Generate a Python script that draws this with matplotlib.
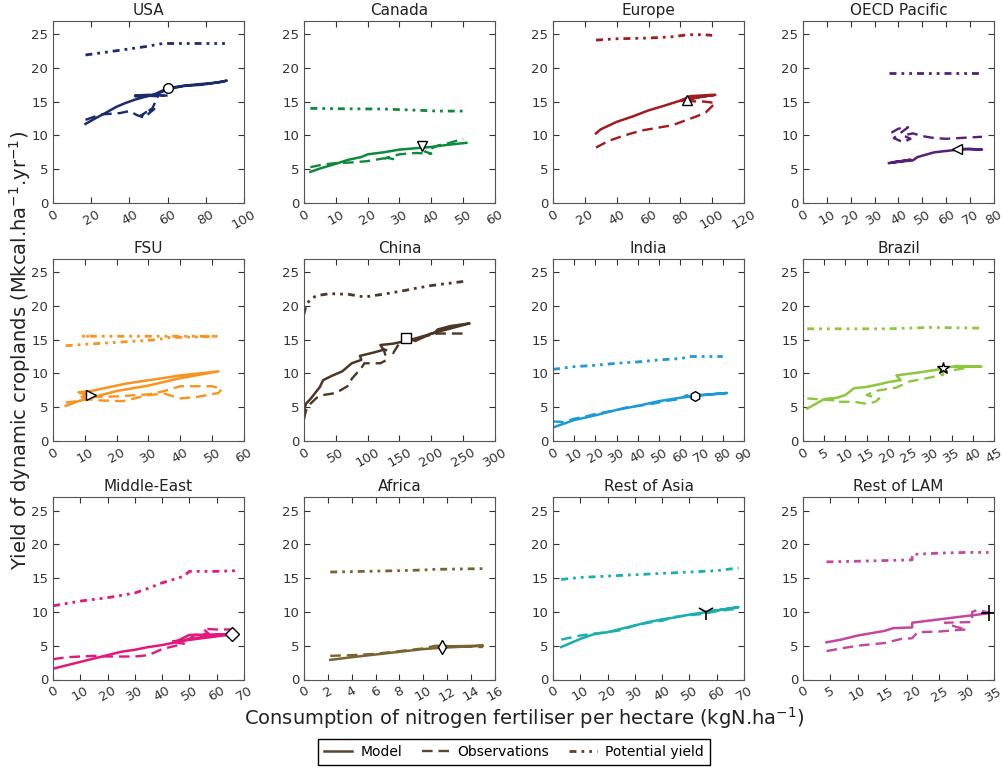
import numpy as np
import matplotlib
matplotlib.use("Agg")
import matplotlib.pyplot as plt
from matplotlib.lines import Line2D

# =========================
# regions, colours, markers
# =========================
regions = ["USA", "Canada", "Europe", "OECD Pacific",
           "FSU", "China", "India", "Brazil",
           "Middle-East", "Africa", "Rest of Asia", "Rest of LAM"]
colors = ["#1c2a6e", "#0d8a3c", "#a11b1f", "#56207a",
          "#f7931e", "#4e3626", "#1c9ad6", "#8dc63f",
          "#e5177b", "#7b6330", "#19afae", "#c2489e"]
markers = ["o", "v", "^", "<", ">", "s", "h", "*", "D", "d", "1", "+"]
xmax = [100, 60, 120, 80, 60, 300, 90, 45, 70, 16, 70, 35]
xstep = [20, 10, 20, 10, 10, 50, 10, 5, 10, 2, 10, 5]

# marker position (x, y) on the model curve
mark_xy = [(60, 17.0), (37, 8.4), (84, 15.3), (64.5, 8.0),
           (12, 6.8), (160, 15.2), (67, 6.7), (33, 10.8),
           (65.5, 6.7), (11.6, 4.8), (56, 10.0), (34, 9.8)]

# =========================
# data: model / observations / potential yield
# =========================
model_x = [
    [17, 22, 28, 33, 38, 43, 48, 55, 60, 68, 78, 88, 91, 85, 70, 60, 52, 45, 43, 50, 58],
    [2, 5, 10, 14, 18, 20, 25, 30, 35, 40, 45, 51],
    [27, 30, 40, 50, 60, 70, 78, 85, 95, 102, 92, 80, 86, 100, 84],
    [36, 40, 45, 37, 46, 48, 50, 55, 60, 65, 70, 75, 68, 64.5],
    [4, 8, 12, 20, 30, 40, 52, 40, 33, 23, 12, 8, 12, 9, 12],
    [0, 3, 10, 15, 25, 30, 45, 60, 75, 90, 88, 110, 125, 120, 140, 160, 180, 205, 210, 230, 260, 200, 175, 160],
    [0, 10, 20, 30, 40, 50, 60, 70, 82, 67],
    [1, 3, 5, 8, 10, 12, 15, 18, 20, 23, 22, 28, 33, 35, 42, 36],
    [0, 5, 10, 15, 20, 25, 30, 35, 40, 45, 50, 55, 60, 66, 45, 50, 66],
    [2.2, 4, 6, 8, 10, 11.5, 15, 12, 11.6],
    [3, 10, 15, 20, 25, 30, 35, 40, 45, 50, 55, 60, 68, 56],
    [4.3, 7, 10, 15, 16.5, 20, 20, 25, 30, 34],
]
model_y = [
    [11.7, 12.5, 13.4, 14.2, 14.8, 15.3, 15.7, 16.2, 16.8, 17.3, 17.5, 17.9, 18.1, 17.8, 17.4, 17.0, 15.9, 15.8, 15.9, 16.0, 15.9],
    [4.6, 5.1, 5.8, 6.4, 6.8, 7.2, 7.5, 7.9, 8.1, 8.3, 8.6, 8.9],
    [10.3, 10.9, 12.0, 12.8, 13.7, 14.4, 15.0, 15.5, 15.8, 16.0, 15.7, 15.1, 15.8, 16.0, 15.3],
    [5.9, 6.1, 6.4, 6.0, 6.3, 6.8, 7.0, 7.5, 7.7, 7.9, 8.0, 7.9, 8.0, 8.0],
    [5.2, 5.9, 6.4, 7.4, 8.2, 9.3, 10.3, 9.7, 9.2, 8.5, 7.4, 7.2, 6.6, 6.5, 6.8],
    [4.5, 5.5, 6.2, 6.8, 8.0, 9.0, 9.7, 10.3, 11.5, 12.0, 12.6, 13.1, 13.5, 14.2, 14.4, 14.8, 15.3, 16.0, 16.5, 17.0, 17.4, 15.9, 14.8, 15.2],
    [2.0, 3.1, 3.8, 4.6, 5.2, 5.9, 6.4, 6.8, 7.1, 6.7],
    [4.8, 5.5, 6.2, 6.4, 6.8, 7.8, 8.0, 8.4, 8.7, 9.0, 9.7, 10.2, 10.7, 11.0, 11.0, 11.1],
    [1.6, 2.1, 2.6, 3.1, 3.6, 4.1, 4.4, 4.8, 5.1, 5.5, 6.0, 6.3, 6.6, 6.7, 5.6, 6.6, 6.7],
    [2.9, 3.3, 3.7, 4.1, 4.5, 4.7, 5.0, 4.9, 4.8],
    [4.8, 6.0, 6.7, 7.0, 7.5, 8.0, 8.5, 8.9, 9.2, 9.6, 9.9, 10.2, 10.7, 10.0],
    [5.5, 5.9, 6.5, 7.2, 7.6, 7.7, 8.4, 8.9, 9.4, 9.8],
]

obs_x = [
    [17, 25, 35, 40, 44, 48, 50, 53, 49, 46, 52, 55, 47, 43, 60],
    [2, 6, 10, 15, 20, 25, 28, 26, 30, 35, 40, 38, 42, 45, 50],
    [27, 35, 45, 55, 65, 75, 83, 90, 96, 102, 95, 80],
    [37, 40, 44, 41, 38, 42, 45, 42, 46, 50, 55, 60, 65, 70, 75],
    [4, 8, 10, 15, 22, 30, 35, 40, 45, 52, 53, 50, 40, 35, 30, 20, 12, 9],
    [0, 3, 10, 20, 30, 50, 70, 75, 90, 95, 120, 130, 125, 140, 150, 180, 210, 255],
    [0, 5, 10, 15, 20, 30, 35, 45, 50, 55, 60, 63, 65],
    [1, 5, 8, 8, 12, 15, 17, 18, 15, 17, 22, 25, 30, 33, 33, 40, 42],
    [0, 5, 10, 15, 20, 25, 30, 35, 40, 45, 48, 43, 50, 52, 57, 55, 60, 66],
    [2.2, 4, 6, 8, 10, 11, 15],
    [3, 10, 15, 20, 25, 30, 35, 40, 45, 50, 55, 60, 68],
    [4.3, 7, 10, 15, 18, 20, 21, 25, 28, 30, 28, 26, 31, 31, 32, 34],
]
obs_y = [
    [12.3, 13.1, 13.3, 13.6, 13.0, 12.6, 13.2, 13.9, 13.5, 12.9, 14.0, 15.8, 15.9, 15.8, 15.9],
    [5.3, 5.7, 5.9, 6.0, 6.2, 6.6, 6.5, 6.7, 7.2, 7.4, 7.3, 7.6, 8.5, 8.8, 9.5],
    [8.2, 9.2, 10.0, 10.7, 11.1, 11.5, 12.2, 12.8, 13.4, 14.8, 15.0, 15.1],
    [10.4, 11.0, 11.2, 10.4, 9.6, 9.0, 9.5, 10.0, 10.3, 9.9, 9.6, 9.5, 9.6, 9.7, 9.8],
    [5.7, 5.9, 6.2, 6.0, 5.9, 6.8, 7.0, 6.3, 6.5, 7.1, 7.7, 8.1, 8.1, 7.4, 6.9, 6.6, 6.5, 7.3],
    [3.2, 4.5, 5.5, 6.4, 6.8, 7.1, 8.2, 9.2, 10.8, 11.5, 11.5, 12.0, 13.6, 13.0, 14.5, 15.3, 15.9, 15.9],
    [2.9, 2.8, 3.3, 3.6, 4.0, 4.6, 5.0, 5.4, 5.7, 6.0, 6.2, 6.8, 6.4],
    [6.3, 6.1, 6.0, 5.8, 5.8, 5.5, 5.8, 6.3, 6.8, 7.4, 7.9, 8.8, 9.4, 9.8, 10.2, 11.0, 11.1],
    [3.0, 3.3, 3.4, 3.5, 3.4, 3.4, 3.4, 3.6, 4.5, 5.0, 5.3, 5.6, 6.0, 6.6, 6.8, 7.5, 7.4, 7.4],
    [3.5, 3.6, 3.8, 4.2, 4.6, 5.0, 4.8],
    [5.9, 6.5, 6.8, 7.0, 7.3, 8.0, 8.4, 8.7, 9.3, 9.5, 9.7, 10.1, 10.5],
    [4.2, 4.6, 5.0, 5.4, 6.0, 6.1, 7.0, 7.1, 7.3, 7.4, 7.8, 8.4, 8.5, 10.0, 10.3, 9.9],
]

pot_x = [
    [17, 30, 40, 45, 50, 55, 58, 70, 90],
    [2, 10, 25, 37, 42, 50],
    [27, 40, 60, 75, 85, 95, 100],
    [36, 45, 55, 65, 75],
    [4, 10, 20, 30, 33, 36, 45, 52, 30, 9, 12],
    [0, 3, 10, 20, 40, 70, 95, 130, 160, 170, 200, 250],
    [0, 10, 20, 30, 40, 50, 60, 65, 80],
    [1, 10, 20, 30, 42],
    [0, 10, 20, 30, 35, 40, 45, 48, 50, 55, 60, 67],
    [2.2, 5, 8, 10, 11, 15],
    [3, 10, 20, 30, 40, 50, 55, 60, 68],
    [4.3, 10, 15, 20, 20, 25, 30, 34],
]
pot_y = [
    [21.9, 22.4, 22.8, 23.0, 23.2, 23.5, 23.6, 23.6, 23.6],
    [14.0, 13.95, 13.9, 13.7, 13.6, 13.6],
    [24.1, 24.3, 24.4, 24.6, 24.9, 24.9, 24.8],
    [19.2, 19.2, 19.2, 19.2, 19.2],
    [14.1, 14.3, 14.6, 14.9, 15.0, 15.3, 15.4, 15.5, 15.5, 15.5, 15.5],
    [18.8, 20.0, 21.0, 21.5, 21.8, 21.7, 21.3, 21.8, 22.3, 22.5, 23.0, 23.6],
    [10.6, 11.0, 11.2, 11.5, 11.7, 12.0, 12.2, 12.5, 12.5],
    [16.6, 16.6, 16.6, 16.8, 16.7],
    [10.9, 11.6, 12.1, 12.8, 13.5, 14.3, 14.9, 15.3, 16.0, 16.0, 16.0, 16.1],
    [15.9, 16.0, 16.1, 16.2, 16.3, 16.4],
    [14.8, 15.1, 15.3, 15.5, 15.7, 15.9, 16.0, 16.1, 16.5],
    [17.4, 17.5, 17.6, 17.7, 18.5, 18.7, 18.8, 18.8],
]

pot_style = (0, (2.5, 1.8, 1, 1.8, 1, 1.8))
obs_style = (0, (4.5, 2.5))

# =========================
# figure
# =========================
W, H = 1003, 770
fig = plt.figure(figsize=(W / 100, H / 100), dpi=100)

ax_w, ax_h = 191, 182.5
lefts = [53, 304, 553, 803]
tops = [20.5, 258.5, 497]

for i, name in enumerate(regions):
    r, c = divmod(i, 4)
    ax = fig.add_axes([lefts[c] / W, 1 - (tops[r] + ax_h) / H, ax_w / W, ax_h / H])
    col = colors[i]

    ax.plot(pot_x[i], pot_y[i], color=col, lw=2, linestyle=pot_style)
    ax.plot(obs_x[i], obs_y[i], color=col, lw=1.7, linestyle=obs_style)
    ax.plot(model_x[i], model_y[i], color=col, lw=1.8, linestyle="-")

    mx, my = mark_xy[i]
    if markers[i] in ("1", "+"):
        ax.plot(mx, my, marker=markers[i], color="black", ms=12, mew=1.2)
    else:
        ms = 9 if markers[i] == "*" else 7
        ax.plot(mx, my, marker=markers[i], mfc="white", mec="black", ms=ms, mew=1)

    ax.set_xlim(0, xmax[i])
    ax.set_ylim(0, 27)
    ax.set_xticks(np.arange(0, xmax[i] + 0.01, xstep[i]))
    ax.set_yticks([0, 5, 10, 15, 20, 25])
    ax.tick_params(direction="in", top=True, right=True, length=4,
                   labelsize=9.5, labelcolor="#333333", color="#333333")
    for lab in ax.get_xticklabels():
        lab.set_rotation(30)
    for sp in ax.spines.values():
        sp.set_color("#555555")
    ax.set_title(name, fontsize=11, color="#222222", pad=4)

fig.text(0.523, 1 - 718 / H, "Consumption of nitrogen fertiliser per hectare (kgN.ha$^{-1}$)",
         ha="center", va="center", fontsize=14, color="#222222")
fig.text(20 / W, 1 - 350 / H, "Yield of dynamic croplands (Mkcal.ha$^{-1}$.yr$^{-1}$)",
         ha="center", va="center", rotation=90, fontsize=14, color="#222222")

leg_col = "#5a4530"
handles = [Line2D([], [], color=leg_col, lw=1.8, linestyle="-"),
           Line2D([], [], color=leg_col, lw=1.7, linestyle=obs_style),
           Line2D([], [], color=leg_col, lw=2, linestyle=pot_style)]
fig.legend(handles, ["Model", "Observations", "Potential yield"], ncol=3,
           loc="center", bbox_to_anchor=(514 / W, 1 - 752 / H), fontsize=10,
           fancybox=False, edgecolor="black", framealpha=1,
           handlelength=2.0, columnspacing=1.4, handletextpad=0.6, borderpad=0.45)

fig.savefig("out.png", dpi=100)
